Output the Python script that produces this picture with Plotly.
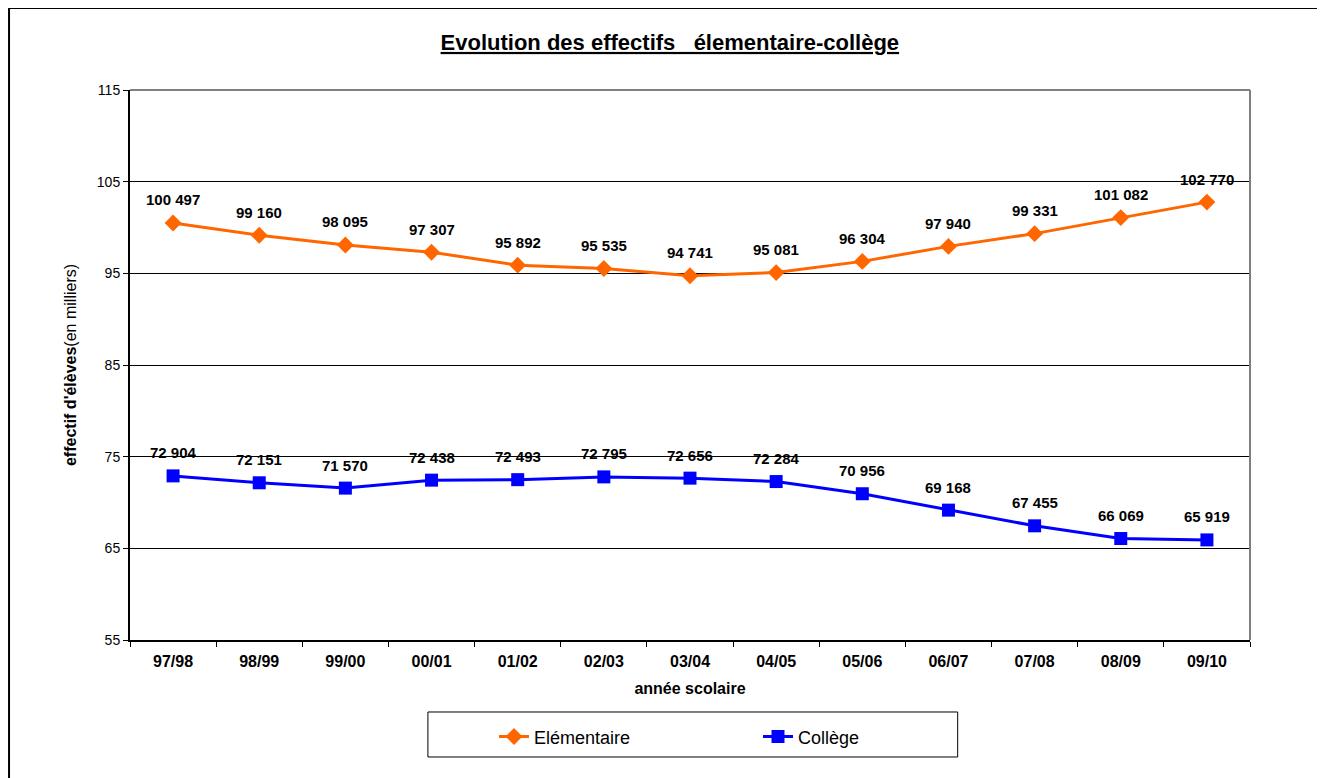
import plotly.graph_objects as go

# années scolaires
annees = ["97/98", "98/99", "99/00", "00/01", "01/02", "02/03", "03/04",
          "04/05", "05/06", "06/07", "07/08", "08/09", "09/10"]
# effectifs en milliers
elementaire = [100.497, 99.160, 98.095, 97.307, 95.892, 95.535, 94.741,
               95.081, 96.304, 97.940, 99.331, 101.082, 102.770]
college = [72.904, 72.151, 71.570, 72.438, 72.493, 72.795, 72.656,
           72.284, 70.956, 69.168, 67.455, 66.069, 65.919]

ORANGE = "#FF6600"
BLEU = "#0000FF"
POLICE = "Liberation Sans, Arial"


def fmt(v):
    # 100.497 -> "100 497"
    n = int(round(v * 1000))
    return f"{n:,}".replace(",", " ")


fig = go.Figure()
fig.add_trace(go.Scatter(
    x=annees, y=elementaire, name="Elémentaire", mode="lines+markers",
    line=dict(color=ORANGE, width=3),
    marker=dict(symbol="diamond", size=13, color=ORANGE),
))
fig.add_trace(go.Scatter(
    x=annees, y=college, name="Collège", mode="lines+markers",
    line=dict(color=BLEU, width=3),
    marker=dict(symbol="square", size=13, color=BLEU),
))

# étiquettes de données au-dessus des points
for serie in (elementaire, college):
    for a, v in zip(annees, serie):
        fig.add_annotation(
            x=a, y=v, text="<b>" + fmt(v) + "</b>", showarrow=False,
            yshift=23, font=dict(family=POLICE, size=15, color="black"),
        )

# cadre extérieur
fig.add_shape(type="rect", xref="paper", yref="paper",
              x0=-0.1080, y0=-0.32, x1=1.12, y1=1.149,
              line=dict(color="black", width=2), layer="below")
# bords gris droite / haut de la zone de tracé
fig.add_shape(type="line", xref="paper", yref="paper",
              x0=1, y0=0, x1=1, y1=1, line=dict(color="#808080", width=2))
fig.add_shape(type="line", xref="paper", yref="paper",
              x0=0, y0=1, x1=1, y1=1, line=dict(color="#808080", width=2))
# cadre de la légende
fig.add_shape(type="rect", xref="paper", yref="paper",
              x0=0.266, y0=-0.2127, x1=0.739, y1=-0.1309,
              line=dict(color="black", width=1))

fig.update_layout(
    width=1325, height=778,
    margin=dict(l=122, r=83, t=82, b=146),
    paper_bgcolor="white", plot_bgcolor="white",
    font=dict(family=POLICE, size=14, color="black"),
    title=dict(
        text="<b><u>Evolution des effectifs\u00a0\u00a0\u00a0élementaire-collège</u></b>",
        x=0.482, xref="paper", xanchor="center", y=0.956, yanchor="middle",
        font=dict(size=22),
    ),
    xaxis=dict(
        type="category", range=[-0.5, 12.5], tickson="boundaries",
        ticks="outside", ticklen=5, ticklabelstandoff=6,
        tickcolor="black", showline=True, linecolor="black", linewidth=2,
        showgrid=False, tickfont=dict(size=16),
        tickprefix="<b>", ticksuffix="</b>",
        title=dict(text="<b>année scolaire</b>", standoff=14,
                   font=dict(size=16)),
    ),
    yaxis=dict(
        range=[55, 115], dtick=10, tick0=55, ticks="outside", ticklen=5,
        tickcolor="black", showline=True, linecolor="black", linewidth=2,
        showgrid=True, gridcolor="black", gridwidth=1, zeroline=False,
        tickfont=dict(size=14),
        title=dict(text="<b>effectif d'élèves</b>(en milliers)", standoff=16,
                   font=dict(size=16)),
    ),
    legend=dict(
        orientation="h", x=0.325, xanchor="left", y=-0.176, yanchor="middle",
        borderwidth=0, entrywidth=219, bgcolor="rgba(0,0,0,0)",
        font=dict(size=18), itemclick=False, traceorder="normal",
    ),
    showlegend=True,
)

fig.write_html("out.html")
